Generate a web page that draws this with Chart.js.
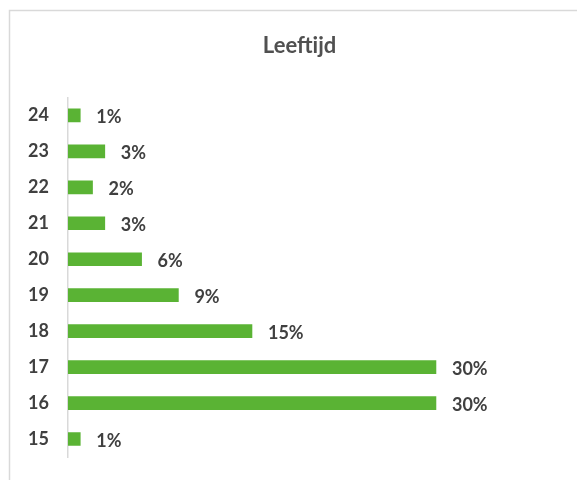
<!DOCTYPE html>
<html>
<head>
<meta charset="utf-8">
<script src="https://cdn.jsdelivr.net/npm/chart.js@4"></script>
<style>
  html, body { margin: 0; padding: 0; background: #fff; }
  #wrap { width: 577px; height: 480px; }
</style>
</head>
<body>
<div id="wrap"><canvas id="chart" width="577" height="480"></canvas></div>
<script>
// ages, top to bottom
const ages = ['24', '23', '22', '21', '20', '19', '18', '17', '16', '15'];
// share per age, in percent
const shares = [1, 3, 2, 3, 6, 9, 15, 30, 30, 1];

const fontName = 'Lato, "Open Sans", sans-serif';

// light grey frame round the chart
const framePlugin = {
    id: 'frame',
    beforeDraw(chart) {
        const ctx = chart.ctx;
        ctx.save();
        ctx.strokeStyle = '#d9d9d9';
        ctx.lineWidth = 1.5;
        ctx.strokeRect(9.5, 10.5, 800, 800);
        ctx.restore();
    }
};

// percent labels at the end of each bar
const valueLabels = {
    id: 'valueLabels',
    afterDatasetsDraw(chart) {
        const ctx = chart.ctx;
        const meta = chart.getDatasetMeta(0);
        ctx.save();
        ctx.font = 'bold 18px ' + fontName;
        ctx.fillStyle = '#404040';
        ctx.textAlign = 'left';
        ctx.textBaseline = 'middle';
        meta.data.forEach((bar, i) => {
            ctx.fillText(shares[i] + '%', bar.x + 16, bar.y + 2);
        });
        ctx.restore();
    }
};

new Chart(document.getElementById('chart'), {
    type: 'bar',
    data: {
        labels: ages,
        datasets: [{
            data: shares,
            backgroundColor: '#5ab334',
            barThickness: 13
        }]
    },
    options: {
        indexAxis: 'y',
        responsive: false,
        animation: false,
        layout: {
            padding: { top: 23, right: 0, bottom: 23, left: 22 }
        },
        plugins: {
            legend: { display: false },
            tooltip: { enabled: false },
            title: {
                display: true,
                text: 'Leeftijd',
                color: '#505050',
                font: { family: fontName, size: 22, weight: 'bold' },
                padding: { top: 10, bottom: 38 }
            }
        },
        scales: {
            x: {
                display: false,
                min: 0,
                max: 41.5
            },
            y: {
                grid: { display: false, drawTicks: false },
                border: { display: true, color: '#d9d9d9', width: 1.5 },
                ticks: {
                    color: '#404040',
                    padding: 19,
                    font: { family: fontName, size: 18, weight: 'bold' }
                },
                afterFit(scale) {
                    // fixed axis width, and no extra room above/below from the tick padding
                    scale.width = 46;
                    scale.paddingTop = 0;
                    scale.paddingBottom = 0;
                }
            }
        }
    },
    plugins: [framePlugin, valueLabels]
});
</script>
</body>
</html>
